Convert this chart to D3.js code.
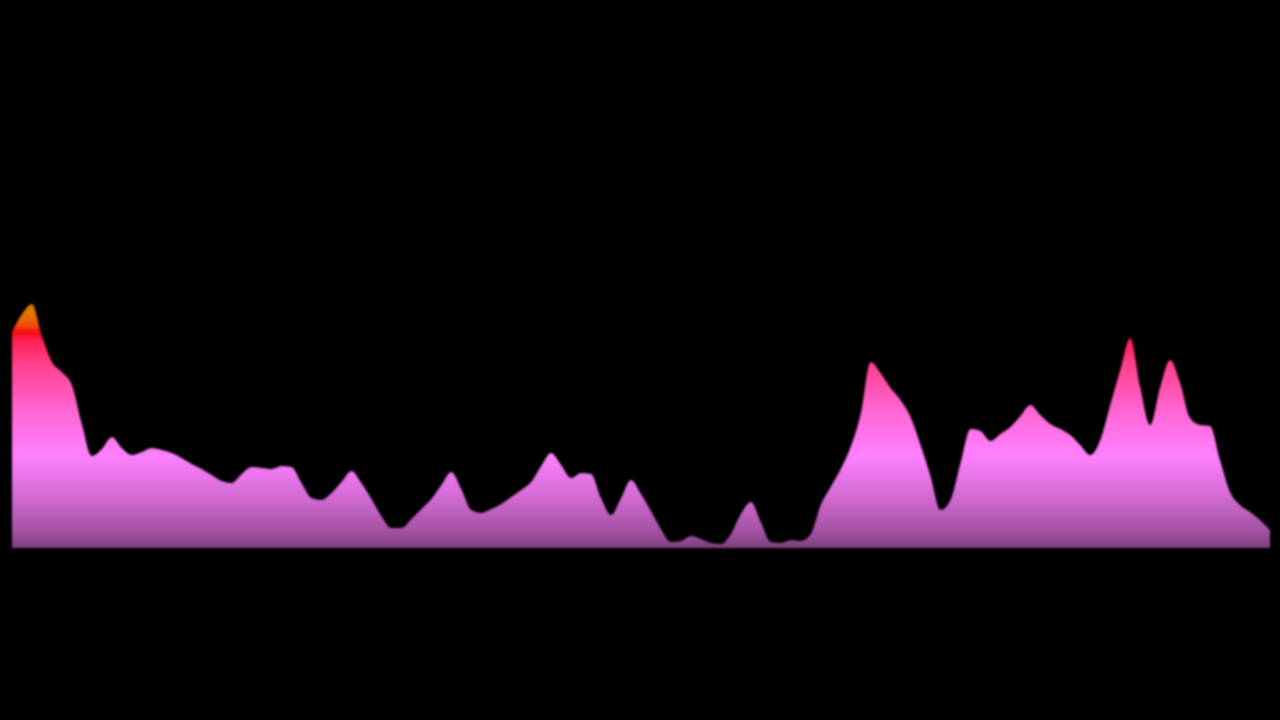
<!DOCTYPE html>
<html>
<head>
<meta charset="utf-8">
<script src="https://cdn.jsdelivr.net/npm/d3@7"></script>
<style>
	html, body {margin:0; padding:0; background:#000;}
	svg {display:block;}
</style>
</head>
<body>
<div id="ChartDiv"></div>
<script>
// level of each sample, left to right
var Levels = [216,234,244,212,186,176,163,124,92,99,111,100,93,96,100,98,95,90,84,79,
	73,67,65,74,81,80,79,82,81,65,50,48,55,66,77,65,49,32,20,20,
	29,39,49,63,76,59,38,35,39,44,51,58,66,82,95,83,70,75,74,50,
	33,50,68,54,37,19,6,7,12,9,5,4,14,34,46,26,6,5,8,7,
	14,43,61,79,101,134,186,175,160,148,131,103,72,38,48,85,119,117,107,114,
	121,132,143,133,124,119,113,103,93,108,143,178,210,161,123,161,188,165,130,123,
	122,88,56,43,36,28,18];

// colour stops of the fill, by level
var StopLevels = [0, 12, 50, 93, 140, 185, 208, 216, 222, 232, 250];
var StopColors = ["#7c3f7c", "#9a4e9a", "#d26ad2", "#ff80ff", "#ff64d0", "#ff3f8a", "#ff2050", "#f50a14", "#f04a08", "#e87000", "#d88000"];

var Width = 1280, Height = 720;
var Margin = {left:12, right:10, baseline:548};

var svg = d3.select("#ChartDiv").append("svg")
	.attr("width",Width).attr("height",Height);

svg.append("rect").attr("width",Width).attr("height",Height).attr("fill","#000");

var x = d3.scaleLinear().domain([0,Levels.length-1]).range([Margin.left,Width-Margin.right]);
var y = d3.scaleLinear().domain([0,250]).range([Margin.baseline,Margin.baseline-250]);

var defs = svg.append("defs");
var grad = defs.append("linearGradient")
	.attr("id","LevelGradient")
	.attr("gradientUnits","userSpaceOnUse")
	.attr("x1",0).attr("x2",0)
	.attr("y1",y(0)).attr("y2",y(250));
grad.selectAll("stop")
	.data(StopLevels)
	.enter().append("stop")
	.attr("offset",function(d) {return d/250;})
	.attr("stop-color",function(d,i) {return StopColors[i];});

defs.append("filter").attr("id","Soft")
	.append("feGaussianBlur").attr("stdDeviation",0.9);

var area = d3.area()
	.x(function(d,i) {return x(i);})
	.y0(y(0))
	.y1(function(d) {return y(d);})
	.curve(d3.curveMonotoneX);

svg.append("path")
	.datum(Levels)
	.attr("d",area)
	.attr("fill","url(#LevelGradient)")
	.attr("filter","url(#Soft)");
</script>
</body>
</html>
